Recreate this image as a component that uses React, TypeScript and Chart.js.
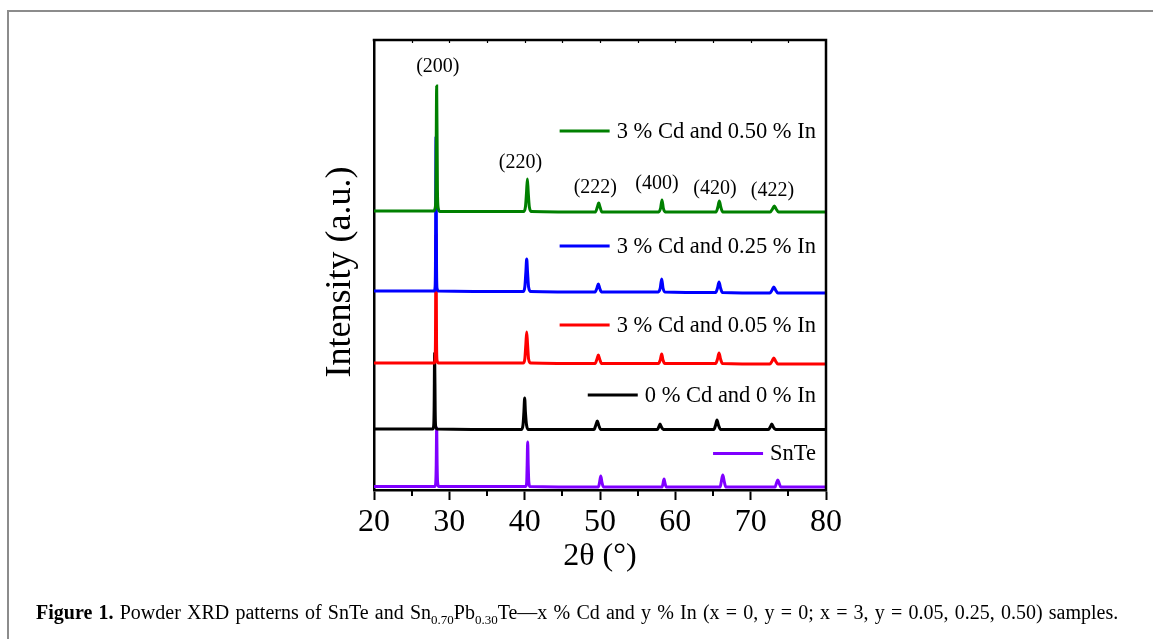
import React, { useEffect, useRef } from "react";
import { Chart, registerables } from "chart.js";

Chart.register(...registerables);

// ---- Data (2θ in degrees, intensity in arbitrary units, stacked offsets) ----
const xTickValues = [20, 30, 40, 50, 60, 70, 80];
const minorTickValues = [25, 35, 45, 55, 65, 75];

const cd3In050: [number, number][] = [
  [20, 279], [27.9, 279], [28.12, 282], [28.22, 300], [28.32, 404], [28.42, 300], [28.52, 282], [28.75, 278.5],
  [39.85, 278.5], [40.1, 283], [40.25, 298], [40.36, 311], [40.47, 298], [40.62, 283], [40.9, 278.5],
  [49.4, 278], [49.65, 283], [49.83, 287], [50.0, 283], [50.25, 278],
  [57.8, 278], [58.05, 282], [58.23, 290], [58.4, 282], [58.65, 278],
  [65.4, 278], [65.65, 283], [65.84, 289], [66.03, 283], [66.3, 278],
  [72.6, 278], [72.9, 281], [73.14, 284], [73.38, 281], [73.7, 278],
  [80, 278],
];

const cd3In025: [number, number][] = [
  [20, 199], [28.0, 199], [28.1, 202], [28.16, 225], [28.23, 353], [28.3, 225], [28.36, 202], [28.55, 199],
  [39.8, 198.5], [40.02, 203], [40.16, 218], [40.27, 231], [40.38, 218], [40.52, 203], [40.8, 198.5],
  [49.35, 198], [49.6, 202], [49.78, 206], [49.95, 202], [50.2, 198],
  [57.75, 198], [58.0, 202], [58.19, 211], [58.36, 202], [58.6, 198],
  [65.35, 197.5], [65.6, 202], [65.8, 208], [66.0, 202], [66.25, 197.5],
  [72.55, 197], [72.85, 200], [73.07, 203], [73.3, 200], [73.6, 197],
  [80, 197],
];

const cd3In005: [number, number][] = [
  [20, 127], [28.0, 127], [28.1, 130], [28.16, 150], [28.23, 255], [28.3, 150], [28.36, 130], [28.55, 127],
  [39.8, 127], [40.02, 131], [40.16, 146], [40.27, 158], [40.38, 146], [40.52, 131], [40.8, 127],
  [49.35, 126.5], [49.6, 131], [49.78, 135], [49.95, 131], [50.2, 126.5],
  [57.75, 126.5], [58.0, 130], [58.19, 136], [58.36, 130], [58.6, 126.5],
  [65.35, 126.5], [65.6, 131], [65.8, 137], [66.0, 131], [66.25, 126.5],
  [72.55, 126], [72.85, 129], [73.07, 132], [73.3, 129], [73.6, 126],
  [80, 126],
];

const cd0In0: [number, number][] = [
  [20, 61], [27.8, 61], [27.92, 64], [27.98, 80], [28.05, 137], [28.12, 80], [28.18, 64], [28.4, 61],
  [39.55, 60.5], [39.78, 65], [39.9, 78], [40.0, 92], [40.1, 78], [40.25, 65], [40.5, 60.5],
  [49.2, 60.5], [49.45, 65], [49.64, 69], [49.82, 65], [50.1, 60.5],
  [57.6, 60.5], [57.8, 63], [57.97, 66], [58.15, 63], [58.4, 60.5],
  [65.1, 60.5], [65.35, 65], [65.53, 70], [65.72, 65], [66.0, 60.5],
  [72.35, 60.5], [72.6, 63], [72.8, 66], [73.0, 63], [73.3, 60.5],
  [80, 60.5],
];

const snTe: [number, number][] = [
  [20, 3.5], [28.1, 3.5], [28.2, 8], [28.26, 25], [28.32, 62], [28.38, 25], [28.44, 8], [28.6, 3.5],
  [40.15, 3.5], [40.27, 8], [40.33, 25], [40.4, 48], [40.47, 25], [40.55, 8], [40.7, 3.5],
  [49.8, 3], [49.95, 8], [50.1, 14], [50.25, 8], [50.45, 3],
  [58.25, 3], [58.38, 7], [58.5, 11], [58.62, 7], [58.8, 3],
  [65.95, 3], [66.12, 9], [66.3, 15], [66.48, 9], [66.7, 3],
  [73.25, 3], [73.43, 7], [73.6, 10], [73.77, 7], [74.0, 3],
  [80, 3],
];

const seriesLabels = [
  "3 % Cd and 0.50 % In",
  "3 % Cd and 0.25 % In",
  "3 % Cd and 0.05 % In",
  "0 % Cd and 0 % In",
  "SnTe",
];
const seriesData = [cd3In050, cd3In025, cd3In005, cd0In0, snTe];
const seriesColors = ["#008000", "#0000FF", "#FF0000", "#000000", "#7F00FF"];
// legend anchor: right end of text (2θ), vertical position (a.u.)
const legendX = [78.67, 78.67, 78.67, 78.67, 78.67];
const legendY = [359, 244, 165, 95, 36.5];

// Miller indices labels
const peakLabels = ["(200)", "(220)", "(222)", "(400)", "(420)", "(422)"];
const peakLabelX = [28.47, 39.45, 49.38, 57.57, 65.27, 72.9];
const peakLabelY = [423, 327.5, 302.5, 306, 301.3, 299];

const yTitle = "Intensity (a.u.)";
const xTitle = "2θ (°)";

const SERIF = "'Liberation Serif', 'Times New Roman', serif";

const overlayPlugin = {
  id: "xrdOverlay",
  afterDraw(chart: any) {
    const { ctx, chartArea, scales } = chart;
    const xs = scales.x;
    const ys = scales.y;
    ctx.save();
    ctx.strokeStyle = "#000";
    ctx.lineCap = "butt";
    // top & right frame
    ctx.lineWidth = 2.5;
    ctx.beginPath();
    ctx.moveTo(chartArea.left - 1.25, chartArea.top);
    ctx.lineTo(chartArea.right, chartArea.top);
    ctx.lineTo(chartArea.right, chartArea.bottom + 1.25);
    ctx.stroke();
    // minor ticks on bottom axis
    ctx.lineWidth = 2;
    minorTickValues.forEach((v) => {
      const px = Math.round(xs.getPixelForValue(v));
      ctx.beginPath();
      ctx.moveTo(px, chartArea.bottom);
      ctx.lineTo(px, chartArea.bottom + 6);
      ctx.stroke();
    });
    // small inward ticks on top axis
    ctx.lineWidth = 1.2;
    [...xTickValues, ...minorTickValues].forEach((v) => {
      if (v === 20 || v === 80) return;
      const px = Math.round(xs.getPixelForValue(v)) + 0.5;
      ctx.beginPath();
      ctx.moveTo(px, chartArea.top);
      ctx.lineTo(px, chartArea.top + 3);
      ctx.stroke();
    });
    // y axis title (vertical)
    ctx.fillStyle = "#000";
    ctx.save();
    ctx.translate(ys.left + 25, (chartArea.top + chartArea.bottom) / 2 + 7);
    ctx.rotate(-Math.PI / 2);
    ctx.font = `36px ${SERIF}`;
    ctx.textAlign = "center";
    ctx.textBaseline = "middle";
    ctx.fillText(yTitle, 0, 0);
    ctx.restore();
    // peak labels
    ctx.font = `20px ${SERIF}`;
    ctx.textAlign = "center";
    ctx.textBaseline = "middle";
    peakLabels.forEach((t, i) => {
      ctx.fillText(t, xs.getPixelForValue(peakLabelX[i]), ys.getPixelForValue(peakLabelY[i]));
    });
    // inline legend entries
    ctx.font = `22.5px ${SERIF}`;
    ctx.textAlign = "right";
    seriesLabels.forEach((t, i) => {
      const rx = xs.getPixelForValue(legendX[i]);
      const py = ys.getPixelForValue(legendY[i]);
      const w = ctx.measureText(t).width;
      ctx.fillStyle = "#000";
      ctx.fillText(t, rx, py + 1);
      ctx.strokeStyle = seriesColors[i];
      ctx.lineWidth = 3;
      ctx.beginPath();
      ctx.moveTo(rx - w - 7 - 50, py);
      ctx.lineTo(rx - w - 7, py);
      ctx.stroke();
    });
    ctx.restore();
  },
};

function XrdChart() {
  const canvasRef = useRef<HTMLCanvasElement | null>(null);
  useEffect(() => {
    if (!canvasRef.current) return;
    const chart = new Chart(canvasRef.current, {
      type: "line",
      data: {
        datasets: seriesData.map((d, i) => ({
          label: seriesLabels[i],
          data: d.map(([x, y]) => ({ x, y })),
          borderColor: seriesColors[i],
          backgroundColor: seriesColors[i],
          borderWidth: 3,
          pointRadius: 0,
          cubicInterpolationMode: "monotone" as const,
          fill: false,
        })),
      },
      options: {
        animation: false,
        responsive: false,
        maintainAspectRatio: false,
        events: [],
        layout: { padding: { left: 316, top: 40, right: 327, bottom: 59 } },
        plugins: { legend: { display: false }, tooltip: { enabled: false }, title: { display: false } },
        scales: {
          x: {
            type: "linear",
            min: 20,
            max: 80,
            afterFit: (s: any) => { s.height = 90; },
            afterBuildTicks: (s: any) => { s.ticks = xTickValues.map((v) => ({ value: v })); },
            ticks: { stepSize: 10, color: "#000", font: { family: SERIF, size: 32 }, padding: 3, maxRotation: 0, autoSkip: false },
            grid: { display: true, drawOnChartArea: false, drawTicks: true, tickLength: 10, tickWidth: 2, tickColor: "#000" },
            border: { display: true, color: "#000", width: 2.5 },
            title: { display: true, text: xTitle, color: "#000", font: { family: SERIF, size: 32 }, padding: { top: 4, bottom: 4 } },
          },
          y: {
            type: "linear",
            min: 0,
            max: 450,
            afterFit: (s: any) => { s.width = 58; },
            ticks: { display: false },
            grid: { display: false, drawTicks: false },
            border: { display: true, color: "#000", width: 2.5 },
            title: { display: false, text: yTitle },
          },
        },
      },
      plugins: [overlayPlugin],
    });
    return () => chart.destroy();
  }, []);
  return <canvas ref={canvasRef} width={1153} height={639} style={{ position: "absolute", left: 0, top: 0 }} />;
}

export default function App() {
  return (
    <div style={{ position: "fixed", left: 0, top: 0, width: 1153, height: 639, overflow: "hidden", background: "#fff" }}>
      <div style={{ position: "absolute", left: 7, top: 10, width: 1150, height: 640, borderLeft: "2px solid #8c8c8c", borderTop: "2px solid #8c8c8c" }} />
      <XrdChart />
      <div
        style={{
          position: "absolute",
          left: 36,
          top: 601,
          fontFamily: SERIF,
          fontSize: 20,
          wordSpacing: 1.2,
          whiteSpace: "nowrap",
          color: "#000",
          lineHeight: "22px",
        }}
      >
        <b>Figure 1.</b> Powder XRD patterns of SnTe and Sn<sub style={{ fontSize: 13 }}>0.70</sub>Pb<sub style={{ fontSize: 13 }}>0.30</sub>Te—x % Cd and y % In (x = 0, y = 0; x = 3, y = 0.05, 0.25, 0.50) samples.
      </div>
    </div>
  );
}
